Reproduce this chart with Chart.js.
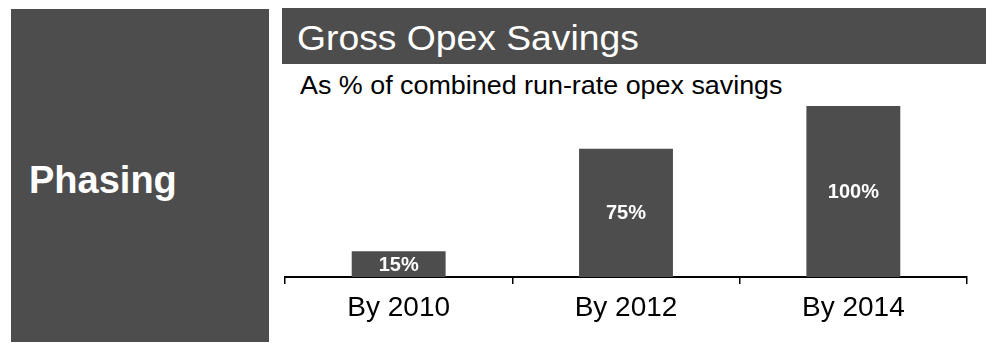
<!DOCTYPE html>
<html>
<head>
<meta charset="utf-8">
<script src="https://cdn.jsdelivr.net/npm/chart.js@4"></script>
<style>
    html, body {
        margin: 0;
        padding: 0;
        width: 986px;
        height: 343px;
        background: #ffffff;
        overflow: hidden;
        font-family: "Liberation Sans", Arial, sans-serif;
    }
    .side-panel {
        position: absolute;
        left: 11px;
        top: 9px;
        width: 258px;
        height: 333px;
        background: #4d4d4d;
    }
    .side-panel span {
        position: absolute;
        left: 18px;
        top: 152px;
        font-size: 38px;
        line-height: 38px;
        font-weight: bold;
        color: #ffffff;
    }
    .title-bar {
        position: absolute;
        left: 282px;
        top: 8px;
        width: 704px;
        height: 56px;
        background: #4d4d4d;
    }
    .title-bar span {
        position: absolute;
        left: 15px;
        top: 12px;
        font-size: 35px;
        line-height: 35px;
        color: #ffffff;
        white-space: nowrap;
        transform: scaleX(1.065);
        transform-origin: left center;
    }
    .subtitle {
        position: absolute;
        left: 300px;
        top: 73px;
        font-size: 25px;
        line-height: 25px;
        color: #000000;
        white-space: nowrap;
        transform: scaleX(1.075);
        transform-origin: left center;
    }
    .chart-box {
        position: absolute;
        left: 270px;
        top: 95px;
        width: 716px;
        height: 248px;
    }
</style>
</head>
<body>
<div class="side-panel"><span>Phasing</span></div>
<div class="title-bar"><span>Gross Opex Savings</span></div>
<div class="subtitle">As % of combined run-rate opex savings</div>
<div class="chart-box"><canvas id="savingsChart"></canvas></div>

<script>
// Доля годовой экономии, достигнутая к каждому году
const periods = ["By 2010", "By 2012", "By 2014"];
const savingsShare = [15, 75, 100];
const valueLabels = ["15%", "75%", "100%"];

const barColor = "#4d4d4d";
const fontFamily = '"Liberation Sans", Arial, sans-serif';

// Подписи значений внутри столбцов
const barLabelsPlugin = {
    id: "barLabels",
    afterDatasetsDraw(chart) {
        const ctx = chart.ctx;
        const meta = chart.getDatasetMeta(0);
        ctx.save();
        ctx.fillStyle = "#ffffff";
        ctx.font = "bold 20px " + fontFamily;
        ctx.textAlign = "center";
        ctx.textBaseline = "middle";
        meta.data.forEach((bar, i) => {
            const y = (bar.y + bar.base) / 2 + 1;
            ctx.fillText(valueLabels[i], bar.x, y);
        });
        ctx.restore();
    }
};

const ctx = document.getElementById("savingsChart").getContext("2d");

new Chart(ctx, {
    type: "bar",
    data: {
        labels: periods,
        datasets: [
            {
                label: "Savings",
                data: savingsShare,
                backgroundColor: barColor,
                borderWidth: 0,
                categoryPercentage: 1,
                barPercentage: 0.413
            }
        ]
    },
    options: {
        responsive: true,
        maintainAspectRatio: false,
        animation: false,
        layout: {
            padding: { left: 15, right: 19, top: 11, bottom: 0 }
        },
        scales: {
            x: {
                grid: {
                    display: true,
                    drawOnChartArea: false,
                    drawTicks: true,
                    tickLength: 7,
                    color: "#000000",
                    lineWidth: 1.5
                },
                border: {
                    display: true,
                    color: "#000000",
                    width: 2
                },
                ticks: {
                    color: "#000000",
                    padding: 7,
                    font: { family: fontFamily, size: 28 }
                },
                afterFit(scale) {
                    scale.height = 66;
                }
            },
            y: {
                display: false,
                min: 0,
                max: 100
            }
        },
        plugins: {
            legend: { display: false },
            tooltip: { enabled: false }
        }
    },
    plugins: [barLabelsPlugin]
});
</script>
</body>
</html>
